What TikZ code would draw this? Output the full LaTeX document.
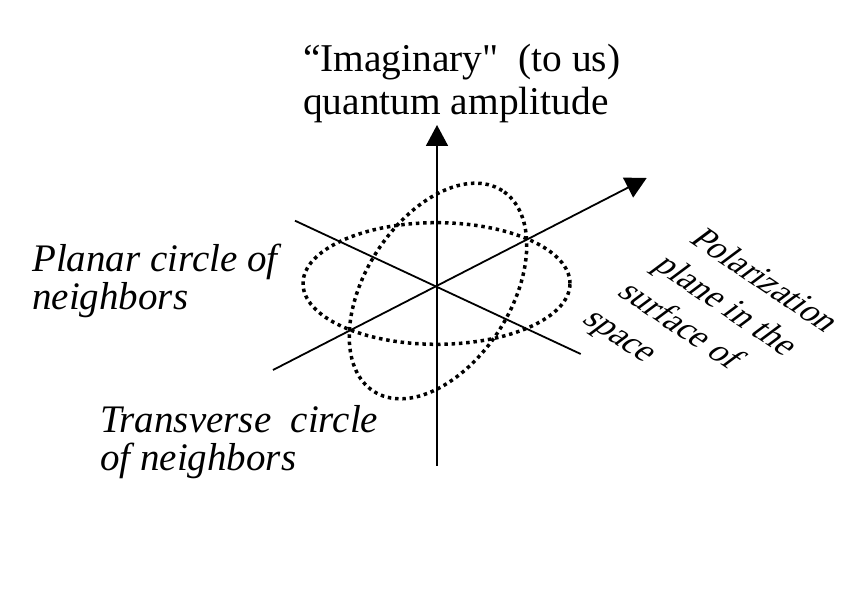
\documentclass[tikz,border=0pt]{standalone}
\usepackage{fontspec}
\setmainfont{Liberation Serif}[Ligatures=TeXOff]
\usetikzlibrary{arrows.meta}
\begin{document}
\begin{tikzpicture}[x=1pt, y=1pt, >={Triangle[length=21pt, width=22pt]},
	axis/.style={line width=1.8pt},
	ring/.style={line width=3.5pt, dash pattern=on 3.5pt off 3.8pt},
	lbl/.style={align=left, inner sep=0pt, anchor=base west, font=\fontsize{39}{38}\selectfont\itshape}]
	\useasboundingbox (0,0) rectangle (868,613);
	\coordinate (O) at (437,327);
	\coordinate (up) at (437,488);
	\coordinate (down) at (437,147);
	\coordinate (pol) at (646.7,435);
	\coordinate (pol') at (273,243);
	\coordinate (a) at (295,392.3);
	\coordinate (b) at (580.7,259);
	\draw[axis, ->] (down) -- (up);
	\draw[axis, ->] (pol') -- (pol);
	\draw[axis] (a) -- (b);
	\draw[ring] (436.5,329.5) coordinate (planar) ellipse [x radius=133.5pt, y radius=60.8pt];
	\draw[ring, rotate around={57.4:(438,322)}] (438,322) coordinate (trans) ellipse [x radius=119.2pt, y radius=72.7pt];
	\node[lbl, font=\fontsize{39.4}{43.3}\selectfont] (imag) at (303,498) {“Imaginary"~ (to us)\\quantum amplitude};
	\node[lbl] (planar lbl) at (32,303) {Planar circle of\\neighbors};
	\node[lbl] (trans lbl) at (100,142.5) {Transverse~ circle\\of neighbors};
	\node[lbl, font=\fontsize{34}{42}\selectfont, rotate=-34, xslant=0.35] (pol lbl) at (581,292) {Polarization\\plane in the\\surface of\\space};
\end{tikzpicture}
\end{document}
